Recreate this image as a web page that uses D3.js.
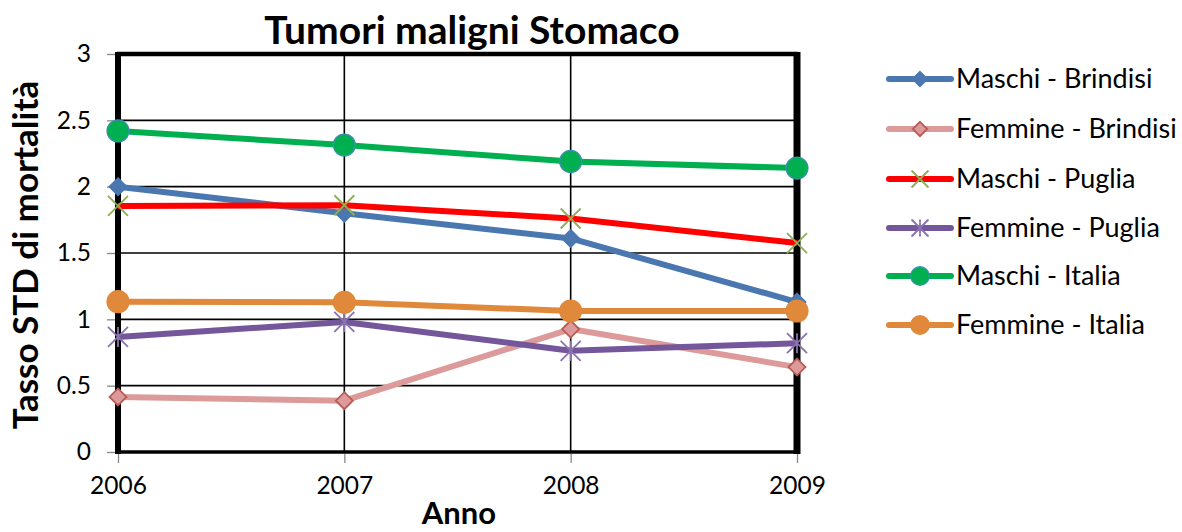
<!DOCTYPE html>
<html><head><meta charset="utf-8">
<script src="https://cdn.jsdelivr.net/npm/d3@7/dist/d3.min.js"></script>
<style>body{margin:0;background:#fff;}svg{display:block;font-family:Lato,"Open Sans",sans-serif;}</style>
</head><body>
<svg id="c" width="1182" height="532"></svg>
<script>
const years = [2006, 2007, 2008, 2009];
const yTicks = [0, 0.5, 1, 1.5, 2, 2.5, 3];
const seriesNames = ["Maschi - Brindisi","Femmine - Brindisi","Maschi - Puglia","Femmine - Puglia","Maschi - Italia","Femmine - Italia"];
const maschiBrindisi = [2.0, 1.80, 1.61, 1.13];
const femmineBrindisi = [0.415, 0.387, 0.927, 0.64];
const maschiPuglia = [1.855, 1.86, 1.76, 1.575];
const femminePuglia = [0.867, 0.98, 0.763, 0.82];
const maschiItalia = [2.42, 2.314, 2.19, 2.14];
const femmineItalia = [1.133, 1.128, 1.063, 1.063];
const seriesValues = [maschiBrindisi, femmineBrindisi, maschiPuglia, femminePuglia, maschiItalia, femmineItalia];

const styles = [
  {line:"#4a77b0", marker:"diamond", fill:"#4a77b0", stroke:"#4a77b0"},
  {line:"#dc9b9a", marker:"diamond", fill:"#dc9b9a", stroke:"#b85a56"},
  {line:"#ff0000", marker:"x", fill:"none", stroke:"#8fae55"},
  {line:"#74569a", marker:"star", fill:"none", stroke:"#8a72b0"},
  {line:"#00b050", marker:"circle", fill:"#00b050", stroke:"#3f8fb0"},
  {line:"#e0893a", marker:"circle", fill:"#e0893a", stroke:"#e0893a"}
];

const svg = d3.select("#c");
const L = 118, R = 797, T = 54, B = 452;
const x = d3.scalePoint().domain(years).range([L, R]);
const y = d3.scaleLinear().domain([0, 3]).range([B, T]);

// gridlines
svg.append("g").selectAll("line.h").data(yTicks).join("line")
  .attr("x1", L).attr("x2", R).attr("y1", d=>y(d)).attr("y2", d=>y(d))
  .attr("stroke", "#000").attr("stroke-width", 1.6);
svg.append("g").selectAll("line.v").data(years).join("line")
  .attr("x1", d=>x(d)).attr("x2", d=>x(d)).attr("y1", T).attr("y2", B)
  .attr("stroke", "#000").attr("stroke-width", 1.6);

// axes
const yAxis = svg.append("g").attr("transform", `translate(${L-2},0)`)
  .call(d3.axisLeft(y).tickValues(yTicks).tickFormat(d3.format("")).tickSize(9).tickPadding(16));
const xAxis = svg.append("g").attr("transform", `translate(0,${B+2})`)
  .call(d3.axisBottom(x).tickSize(9).tickPadding(14));
[yAxis, xAxis].forEach(a => {
  a.select(".domain").remove();
  a.selectAll(".tick line").attr("stroke", "#888").attr("stroke-width", 1.3);
  a.selectAll(".tick text").attr("fill", "#000").style("font-size", "24.5px").style("font-family", "Lato, sans-serif");
});

// frame
svg.append("line").attr("x1", L-1).attr("x2", R+1).attr("y1", T).attr("y2", T).attr("stroke","#000").attr("stroke-width",4.5);
svg.append("line").attr("x1", L-1).attr("x2", R+1).attr("y1", B).attr("y2", B).attr("stroke","#000").attr("stroke-width",3.5);
svg.append("line").attr("x1", L).attr("x2", L).attr("y1", T-2).attr("y2", B+2).attr("stroke","#000").attr("stroke-width",6);
svg.append("line").attr("x1", R).attr("x2", R).attr("y1", T-2).attr("y2", B+2).attr("stroke","#000").attr("stroke-width",7);

function drawMarker(g, st, cx, cy, scale) {
  const s = scale || 1;
  if (st.marker === "diamond") {
    const r = 8.5*s;
    g.append("path").attr("d", `M${cx},${cy-r}L${cx+r},${cy}L${cx},${cy+r}L${cx-r},${cy}Z`)
      .attr("fill", st.fill).attr("stroke", st.stroke).attr("stroke-width", 1.8);
  } else if (st.marker === "circle") {
    g.append("circle").attr("cx", cx).attr("cy", cy).attr("r", 11*s)
      .attr("fill", st.fill).attr("stroke", st.stroke).attr("stroke-width", 1.2);
  } else if (st.marker === "x") {
    const r = 10*s;
    g.append("path").attr("d", `M${cx-r},${cy-r}L${cx+r},${cy+r}M${cx-r},${cy+r}L${cx+r},${cy-r}`)
      .attr("stroke", st.stroke).attr("stroke-width", 1.8).attr("fill","none");
  } else if (st.marker === "star") {
    const r = 10*s;
    g.append("path").attr("d", `M${cx-r},${cy-r}L${cx+r},${cy+r}M${cx-r},${cy+r}L${cx+r},${cy-r}M${cx},${cy-r}L${cx},${cy+r}`)
      .attr("stroke", st.stroke).attr("stroke-width", 1.8).attr("fill","none");
  }
}

const line = d3.line().x((d,i)=>x(years[i])).y(d=>y(d));
seriesValues.forEach((vals, si) => {
  const st = styles[si];
  const g = svg.append("g");
  g.append("path").datum(vals).attr("d", line).attr("fill","none")
    .attr("stroke", st.line).attr("stroke-width", 6).attr("stroke-linejoin","round");
  vals.forEach((v,i) => drawMarker(g, st, x(years[i]), y(v)));
});

// title
svg.append("text").attr("x", 472).attr("y", 44).attr("text-anchor","middle")
  .style("font-size","39px").style("font-weight","bold").text("Tumori maligni Stomaco");
// axis titles
svg.append("text").attr("transform","translate(38,255) rotate(-90)").attr("text-anchor","middle")
  .style("font-size","35px").style("font-weight","bold").text("Tasso STD di mortalità");
svg.append("text").attr("x", 459).attr("y", 524).attr("text-anchor","middle")
  .style("font-size","31px").style("font-weight","bold").text("Anno");

// legend
const legY = [79, 129, 179, 228, 276, 325];
seriesNames.forEach((name, i) => {
  const st = styles[i];
  const g = svg.append("g");
  const cy = legY[i];
  g.append("line").attr("x1", 889).attr("x2", 951).attr("y1", cy).attr("y2", cy)
    .attr("stroke", st.line).attr("stroke-width", 6).attr("stroke-linecap","round");
  drawMarker(g, st, 920, cy, 0.85);
  g.append("text").attr("x", 956).attr("y", cy+9).style("font-size","27px").text(name);
});
</script>
</body></html>
